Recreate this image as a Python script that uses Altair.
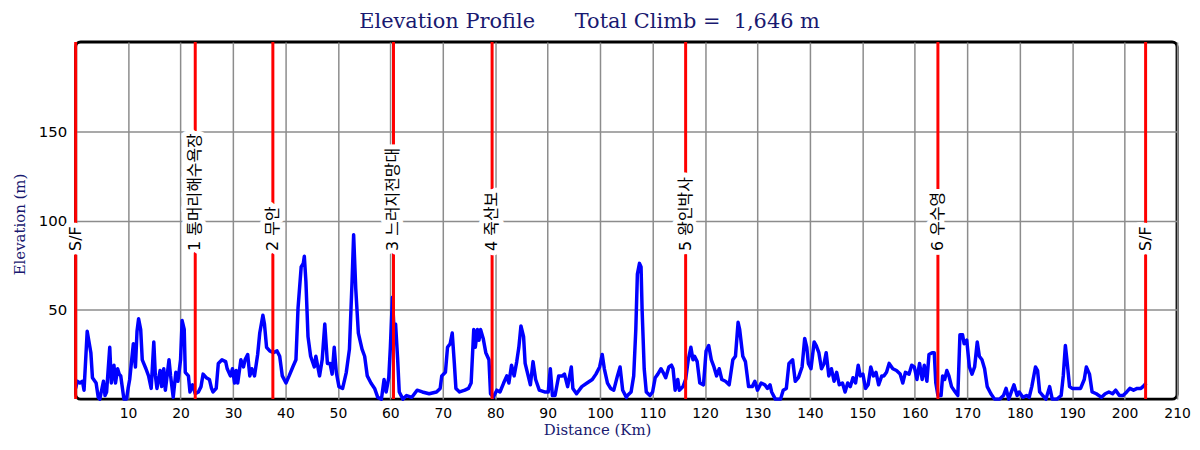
import altair as alt
import pandas as pd

# ---- profile data (distance in km, elevation in m) ----
dist_km = [0.0, 0.3, 0.8, 1.3, 1.6, 2.2, 2.9, 3.2, 3.9, 4.3, 4.6, 5.3, 5.6, 5.9, 6.5, 6.8, 7.3, 7.6, 8.0, 8.3,
           8.6, 9.2, 9.7, 10.0, 10.3, 11.0, 11.4, 11.7, 12.0, 12.4, 12.7, 13.4, 13.9, 14.4, 14.9, 15.2, 15.5, 16.1, 16.4, 16.8,
           17.1, 17.8, 18.1, 18.6, 19.1, 19.5, 20.0, 20.3, 20.7, 20.9, 21.5, 21.8, 22.3, 22.8, 23.4, 23.9, 24.3, 24.9, 25.5, 25.9,
           26.2, 26.8, 27.2, 27.9, 28.6, 28.9, 29.5, 29.9, 30.3, 30.6, 30.9, 31.5, 32.0, 32.3, 32.8, 33.2, 33.6, 34.1, 34.7, 35.1,
           35.7, 36.0, 36.4, 37.0, 37.7, 38.4, 38.9, 39.4, 40.1, 40.7, 41.4, 42.0, 42.4, 43.0, 43.4, 43.6, 43.9, 44.3, 44.8, 45.5,
           45.8, 46.5, 47.0, 47.5, 48.0, 48.5, 48.9, 49.3, 49.7, 50.2, 50.9, 51.6, 52.2, 52.7, 53.0, 53.4, 53.9, 54.6, 55.1, 55.6,
           56.3, 57.0, 57.6, 58.3, 58.8, 59.2, 59.7, 60.0, 60.4, 60.7, 61.0, 61.4, 61.7, 62.4, 63.1, 64.1, 65.1, 66.1, 67.4, 68.8,
           69.5, 69.8, 70.5, 70.9, 71.4, 71.8, 72.2, 72.5, 73.2, 74.2, 74.9, 75.4, 75.9, 76.2, 76.6, 76.9, 77.2, 77.7, 78.2, 78.8,
           79.1, 79.6, 80.3, 80.9, 81.6, 82.2, 82.6, 83.1, 83.6, 84.1, 84.5, 84.9, 85.4, 85.7, 86.2, 86.7, 87.2, 87.7, 88.4, 89.4,
           90.1, 90.5, 90.9, 91.4, 92.1, 92.8, 93.2, 93.8, 94.5, 94.8, 95.5, 96.5, 97.5, 98.5, 99.2, 99.9, 100.4, 100.8, 101.4, 102.0,
           102.6, 103.3, 103.8, 104.3, 105.0, 105.2, 105.9, 106.4, 106.8, 107.1, 107.5, 107.8, 108.0, 108.4, 108.8, 109.5, 110.0, 110.5, 111.0, 111.6,
           112.0, 112.5, 113.1, 113.6, 113.9, 114.3, 114.8, 115.1, 115.8, 116.3, 116.8, 117.3, 117.7, 118.0, 118.5, 119.0, 119.7, 120.2, 120.7, 121.2,
           121.7, 122.2, 122.7, 123.2, 123.9, 124.6, 125.3, 125.8, 126.3, 126.6, 127.2, 127.7, 128.3, 129.0, 129.5, 130.0, 130.7, 131.4, 131.9, 132.4,
           132.7, 133.4, 134.4, 134.9, 135.5, 136.0, 136.7, 137.2, 137.8, 138.5, 139.0, 139.4, 139.7, 140.2, 140.8, 141.2, 141.7, 142.2, 142.7, 143.1,
           143.6, 144.1, 144.6, 145.1, 145.6, 146.2, 146.7, 147.2, 147.7, 148.2, 148.7, 149.2, 149.6, 150.1, 150.6, 151.1, 151.6, 152.1, 152.6, 153.1,
           153.7, 154.1, 154.6, 155.1, 155.8, 156.5, 157.2, 157.7, 158.2, 158.9, 159.4, 159.9, 160.4, 160.9, 161.4, 161.8, 162.3, 162.7, 163.3, 163.7,
           164.0, 164.4, 165.0, 165.3, 165.7, 166.1, 166.5, 167.0, 167.7, 168.2, 168.6, 169.1, 169.4, 169.9, 170.4, 170.9, 171.4, 171.9, 172.3, 172.8,
           173.3, 173.8, 174.5, 175.2, 176.2, 176.9, 177.4, 177.9, 178.4, 178.9, 179.5, 179.9, 180.6, 181.3, 181.8, 182.3, 183.0, 183.4, 183.8, 184.4,
           185.0, 185.7, 186.2, 187.1, 187.9, 188.3, 188.7, 189.0, 189.5, 190.0, 190.9, 191.6, 192.3, 192.7, 193.3, 193.8, 194.6, 195.6, 196.3, 197.0,
           197.7, 198.3, 199.0, 199.7, 200.4, 201.0, 201.7, 202.4, 203.1, 203.5, 204.1]
elev_m = [6, 10, 9, 10, 5, 38, 26, 12, 9, 1, 0, 10, 2, 4, 29, 9, 19, 9, 17, 14,
          13, 0, 0, 6, 11, 31, 18, 38, 45, 39, 22, 17, 13, 6, 32, 13, 6, 16, 7, 17,
          5, 22, 13, 1, 15, 10, 22, 44, 39, 15, 13, 4, 8, 3, 4, 7, 14, 12, 11, 6,
          4, 6, 20, 22, 21, 17, 13, 17, 9, 16, 9, 22, 18, 22, 25, 13, 17, 13, 25, 37,
          47, 42, 29, 27, 26, 27, 24, 13, 9, 13, 18, 22, 51, 74, 76, 80, 66, 35, 24, 18,
          24, 13, 22, 42, 20, 20, 14, 29, 15, 7, 6, 15, 28, 66, 92, 62, 37, 28, 24, 13,
          9, 6, 1, 0, 11, 4, 12, 29, 57, 39, 42, 22, 4, 0, 2, 1, 5, 4, 3, 4,
          6, 13, 15, 29, 31, 37, 20, 6, 4, 5, 6, 9, 39, 29, 39, 33, 39, 34, 26, 22,
          3, 1, 5, 4, 9, 13, 9, 19, 13, 21, 29, 41, 35, 20, 14, 8, 21, 11, 5, 4,
          4, 17, 2, 2, 13, 13, 14, 7, 18, 6, 3, 7, 9, 11, 14, 18, 25, 17, 9, 6,
          5, 13, 18, 5, 1, 2, 4, 13, 39, 70, 76, 74, 50, 17, 4, 2, 4, 12, 14, 17,
          15, 12, 18, 19, 17, 5, 11, 5, 7, 11, 22, 29, 22, 24, 21, 9, 8, 27, 30, 22,
          18, 13, 17, 11, 10, 8, 22, 24, 43, 39, 24, 21, 7, 7, 10, 5, 9, 8, 6, 8,
          4, 0, 0, 5, 6, 20, 22, 10, 12, 18, 34, 29, 20, 17, 32, 30, 26, 17, 20, 26,
          13, 17, 10, 15, 8, 9, 4, 9, 7, 12, 9, 19, 13, 14, 6, 8, 18, 13, 15, 8,
          13, 13, 15, 20, 17, 16, 14, 9, 15, 14, 19, 18, 11, 20, 11, 19, 10, 25, 26, 26,
          9, 2, 2, 13, 11, 16, 13, 7, 4, 2, 36, 36, 31, 33, 18, 14, 18, 32, 24, 22,
          17, 7, 3, 0, 0, 2, 6, 0, 4, 8, 2, 4, 1, 2, 1, 7, 18, 16, 4, 2,
          0, 7, 0, 0, 2, 13, 30, 22, 7, 6, 6, 6, 11, 18, 14, 4, 3, 1, 3, 4,
          3, 5, 2, 2, 4, 6, 5, 6, 6, 7, 9]

# ---- checkpoints ----
marker_km = [0.0, 22.8, 37.6, 60.6, 79.4, 116.3, 164.4, 204.0]
marker_label = ["S/F", "1 통머리해수욕장", "2 무안", "3 느러지전망대", "4 죽산보", "5 왕인박사", "6 우수영", "S/F"]
label_elev = 83

x_ticks = list(range(10, 211, 10))
y_ticks = [50, 100, 150]

profile = pd.DataFrame({"km": dist_km, "elev": elev_m})
markers = pd.DataFrame({"km": marker_km, "label": marker_label})

NAVY = "#191970"
SERIF = "DejaVu Serif"
SANS = "DejaVu Sans"
LABEL_FONT = "DejaVu Sans, 'Noto Sans CJK KR'"

x_scale = alt.Scale(domain=[0, 210], nice=False, zero=False)
y_scale = alt.Scale(domain=[0, 200], nice=False)

x_axis = alt.Axis(values=x_ticks, title="Distance (Km)", grid=True, gridColor="#8c8c8c", gridWidth=1.5,
                  ticks=False, domain=False, labelFont=SANS, labelFontSize=14, labelColor="black",
                  labelPadding=7, labelFlush=False, labelOverlap=False,
                  titleFont=SERIF, titleFontSize=15, titleFontWeight="normal", titleColor=NAVY,
                  titleX=524, titleY=31, titleBaseline="middle", titleAlign="center")
y_axis = alt.Axis(values=y_ticks, title="Elevation (m)", grid=True, gridColor="#8c8c8c", gridWidth=1.5,
                  ticks=False, domain=False, labelFont=SANS, labelFontSize=15, labelColor="black",
                  labelPadding=9, labelOverlap=False,
                  titleFont=SERIF, titleFontSize=15, titleFontWeight="normal", titleColor=NAVY,
                  titleX=-56, titleY=183, titleAngle=270, titleBaseline="middle", titleAlign="center")

line = alt.Chart(profile).mark_line(color="#0000ff", strokeWidth=3.5, strokeJoin="round").encode(
    x=alt.X("km:Q", scale=x_scale, axis=x_axis),
    y=alt.Y("elev:Q", scale=y_scale, axis=y_axis),
)

rules = alt.Chart(markers).mark_rule(color="#ff0000", strokeWidth=3).encode(
    x=alt.X("km:Q", scale=x_scale),
)

halo = alt.Chart(markers).mark_text(angle=270, align="left", baseline="middle", fontSize=16, font=LABEL_FONT,
                                    fill="white", stroke="white", strokeWidth=10, strokeJoin="round").encode(
    x=alt.X("km:Q", scale=x_scale),
    y=alt.datum(label_elev, scale=y_scale),
    text="label:N",
)

labels = alt.Chart(markers).mark_text(angle=270, align="left", baseline="middle", fontSize=16, font=LABEL_FONT,
                                      color="black").encode(
    x=alt.X("km:Q", scale=x_scale),
    y=alt.datum(label_elev, scale=y_scale),
    text="label:N",
)

chart = alt.layer(line, rules, halo, labels).properties(
    width=1107,
    height=359,
    title=alt.TitleParams(
        text="Elevation Profile\u00a0\u00a0\u00a0\u00a0\u00a0\u00a0Total Climb =\u00a0\u00a01,646 m",
        font=SERIF, fontSize=21, fontWeight="normal", color=NAVY, anchor="middle", dx=-37, offset=8,
    ),
    autosize=alt.AutoSizeParams(type="none"),
    padding={"left": 68, "top": 33, "right": 15, "bottom": 42},
).configure_view(
    stroke="black", strokeWidth=3, cornerRadius=5,
)

chart.save("out.html", embed_options={"renderer": "svg", "actions": False})
